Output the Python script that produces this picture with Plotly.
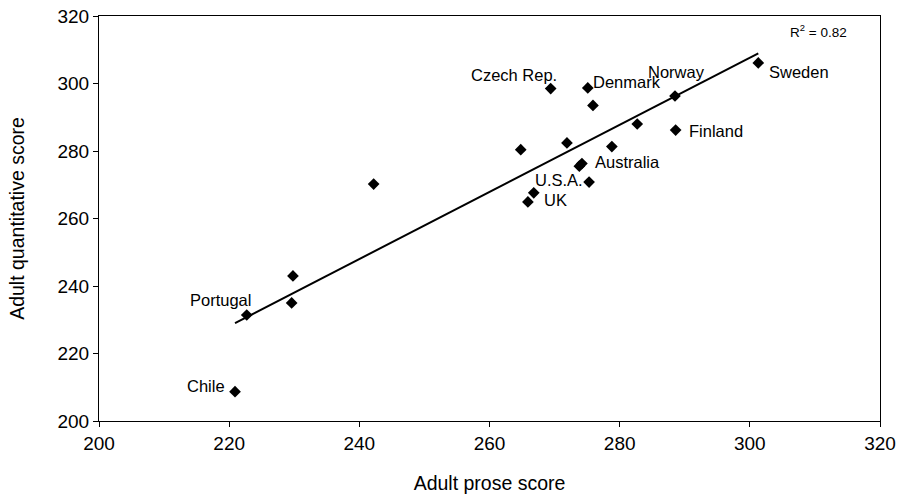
import numpy as np
import plotly.graph_objects as go

# Data
prose = [220.9, 222.7, 229.8, 229.6, 242.2, 264.8, 269.4, 271.9, 275.1, 275.9,
         274.2, 273.8, 275.3, 266.8, 265.9, 278.8, 282.7, 288.5, 288.6, 301.3]
quant = [208.7, 231.4, 243.0, 235.0, 270.2, 280.4, 298.5, 282.4, 298.7, 293.5,
         276.3, 275.5, 270.8, 267.6, 264.9, 281.3, 288.0, 296.3, 286.2, 306.1]
labels = ["Chile", "Portugal", "", "", "", "", "Czech Rep.", "", "Denmark", "",
          "Australia", "", "U.S.A.", "UK", "", "", "", "Norway", "Finland", "Sweden"]
r2_text = "R<sup>2</sup> = 0.82"
x_ticks = [200, 220, 240, 260, 280, 300, 320]
y_ticks = [200, 220, 240, 260, 280, 300, 320]

# label placement (style only): xanchor, xshift, yshift
label_style = {
    "Chile": ("right", -8, 6),
    "Portugal": ("right", 6, 15),
    "Czech Rep.": ("right", 8, 14),
    "Denmark": ("left", 3, 6),
    "Norway": ("center", 2, 24),
    "Sweden": ("left", 9, -9),
    "Finland": ("left", 11, -1),
    "Australia": ("left", 11, 1),
    "U.S.A.": ("right", -4, 2),
    "UK": ("left", 8, -7),
}

FONT = "Liberation Sans, Arial, sans-serif"

x = np.array(prose)
y = np.array(quant)
slope, intercept = np.polyfit(x, y, 1)
fx = np.array([x.min(), x.max()])
fy = slope * fx + intercept

fig = go.Figure()
fig.add_trace(go.Scatter(x=fx, y=fy, mode="lines",
                         line=dict(color="black", width=2), hoverinfo="skip"))
fig.add_trace(go.Scatter(x=prose, y=quant, mode="markers",
                         marker=dict(symbol="diamond", size=9, color="black")))

for px, py, lab in zip(prose, quant, labels):
    if not lab:
        continue
    xa, xs, ys = label_style[lab]
    fig.add_annotation(x=px, y=py, text=lab, showarrow=False, xanchor=xa,
                       yanchor="middle", xshift=xs, yshift=ys,
                       font=dict(family=FONT, size=16.5, color="black"))

fig.add_annotation(x=310.5, y=315.5, xref="x", yref="y", text=r2_text,
                   showarrow=False, xanchor="center", yanchor="middle",
                   font=dict(family=FONT, size=13.5, color="black"))

fig.update_layout(
    width=902, height=494,
    margin=dict(l=99, r=22, t=16, b=73),
    paper_bgcolor="white", plot_bgcolor="white",
    showlegend=False,
    font=dict(family=FONT, size=19, color="black"),
)
fig.update_xaxes(range=[200, 320], tickvals=x_ticks, ticks="outside", ticklen=5,
                 tickcolor="black", showline=True, linecolor="black", linewidth=1,
                 mirror=True, showgrid=False, zeroline=False, automargin=False,
                 ticklabeloverflow="allow",
                 title=dict(text="Adult prose score", font=dict(size=19.5), standoff=32),
                 tickfont=dict(size=19))
fig.update_yaxes(range=[200, 320], tickvals=y_ticks, ticks="outside", ticklen=5,
                 tickcolor="black", showline=True, linecolor="black", linewidth=1,
                 mirror=True, showgrid=False, zeroline=False, automargin=False,
                 ticklabeloverflow="allow",
                 title=dict(text="Adult quantitative score", font=dict(size=19.5), standoff=27),
                 tickfont=dict(size=19))

# remove the default 8px page margin so the figure fills the window exactly
fig.write_html("out.html",
               config={"displayModeBar": False},
               post_script="document.body.style.margin='0';document.body.style.overflow='hidden';")
